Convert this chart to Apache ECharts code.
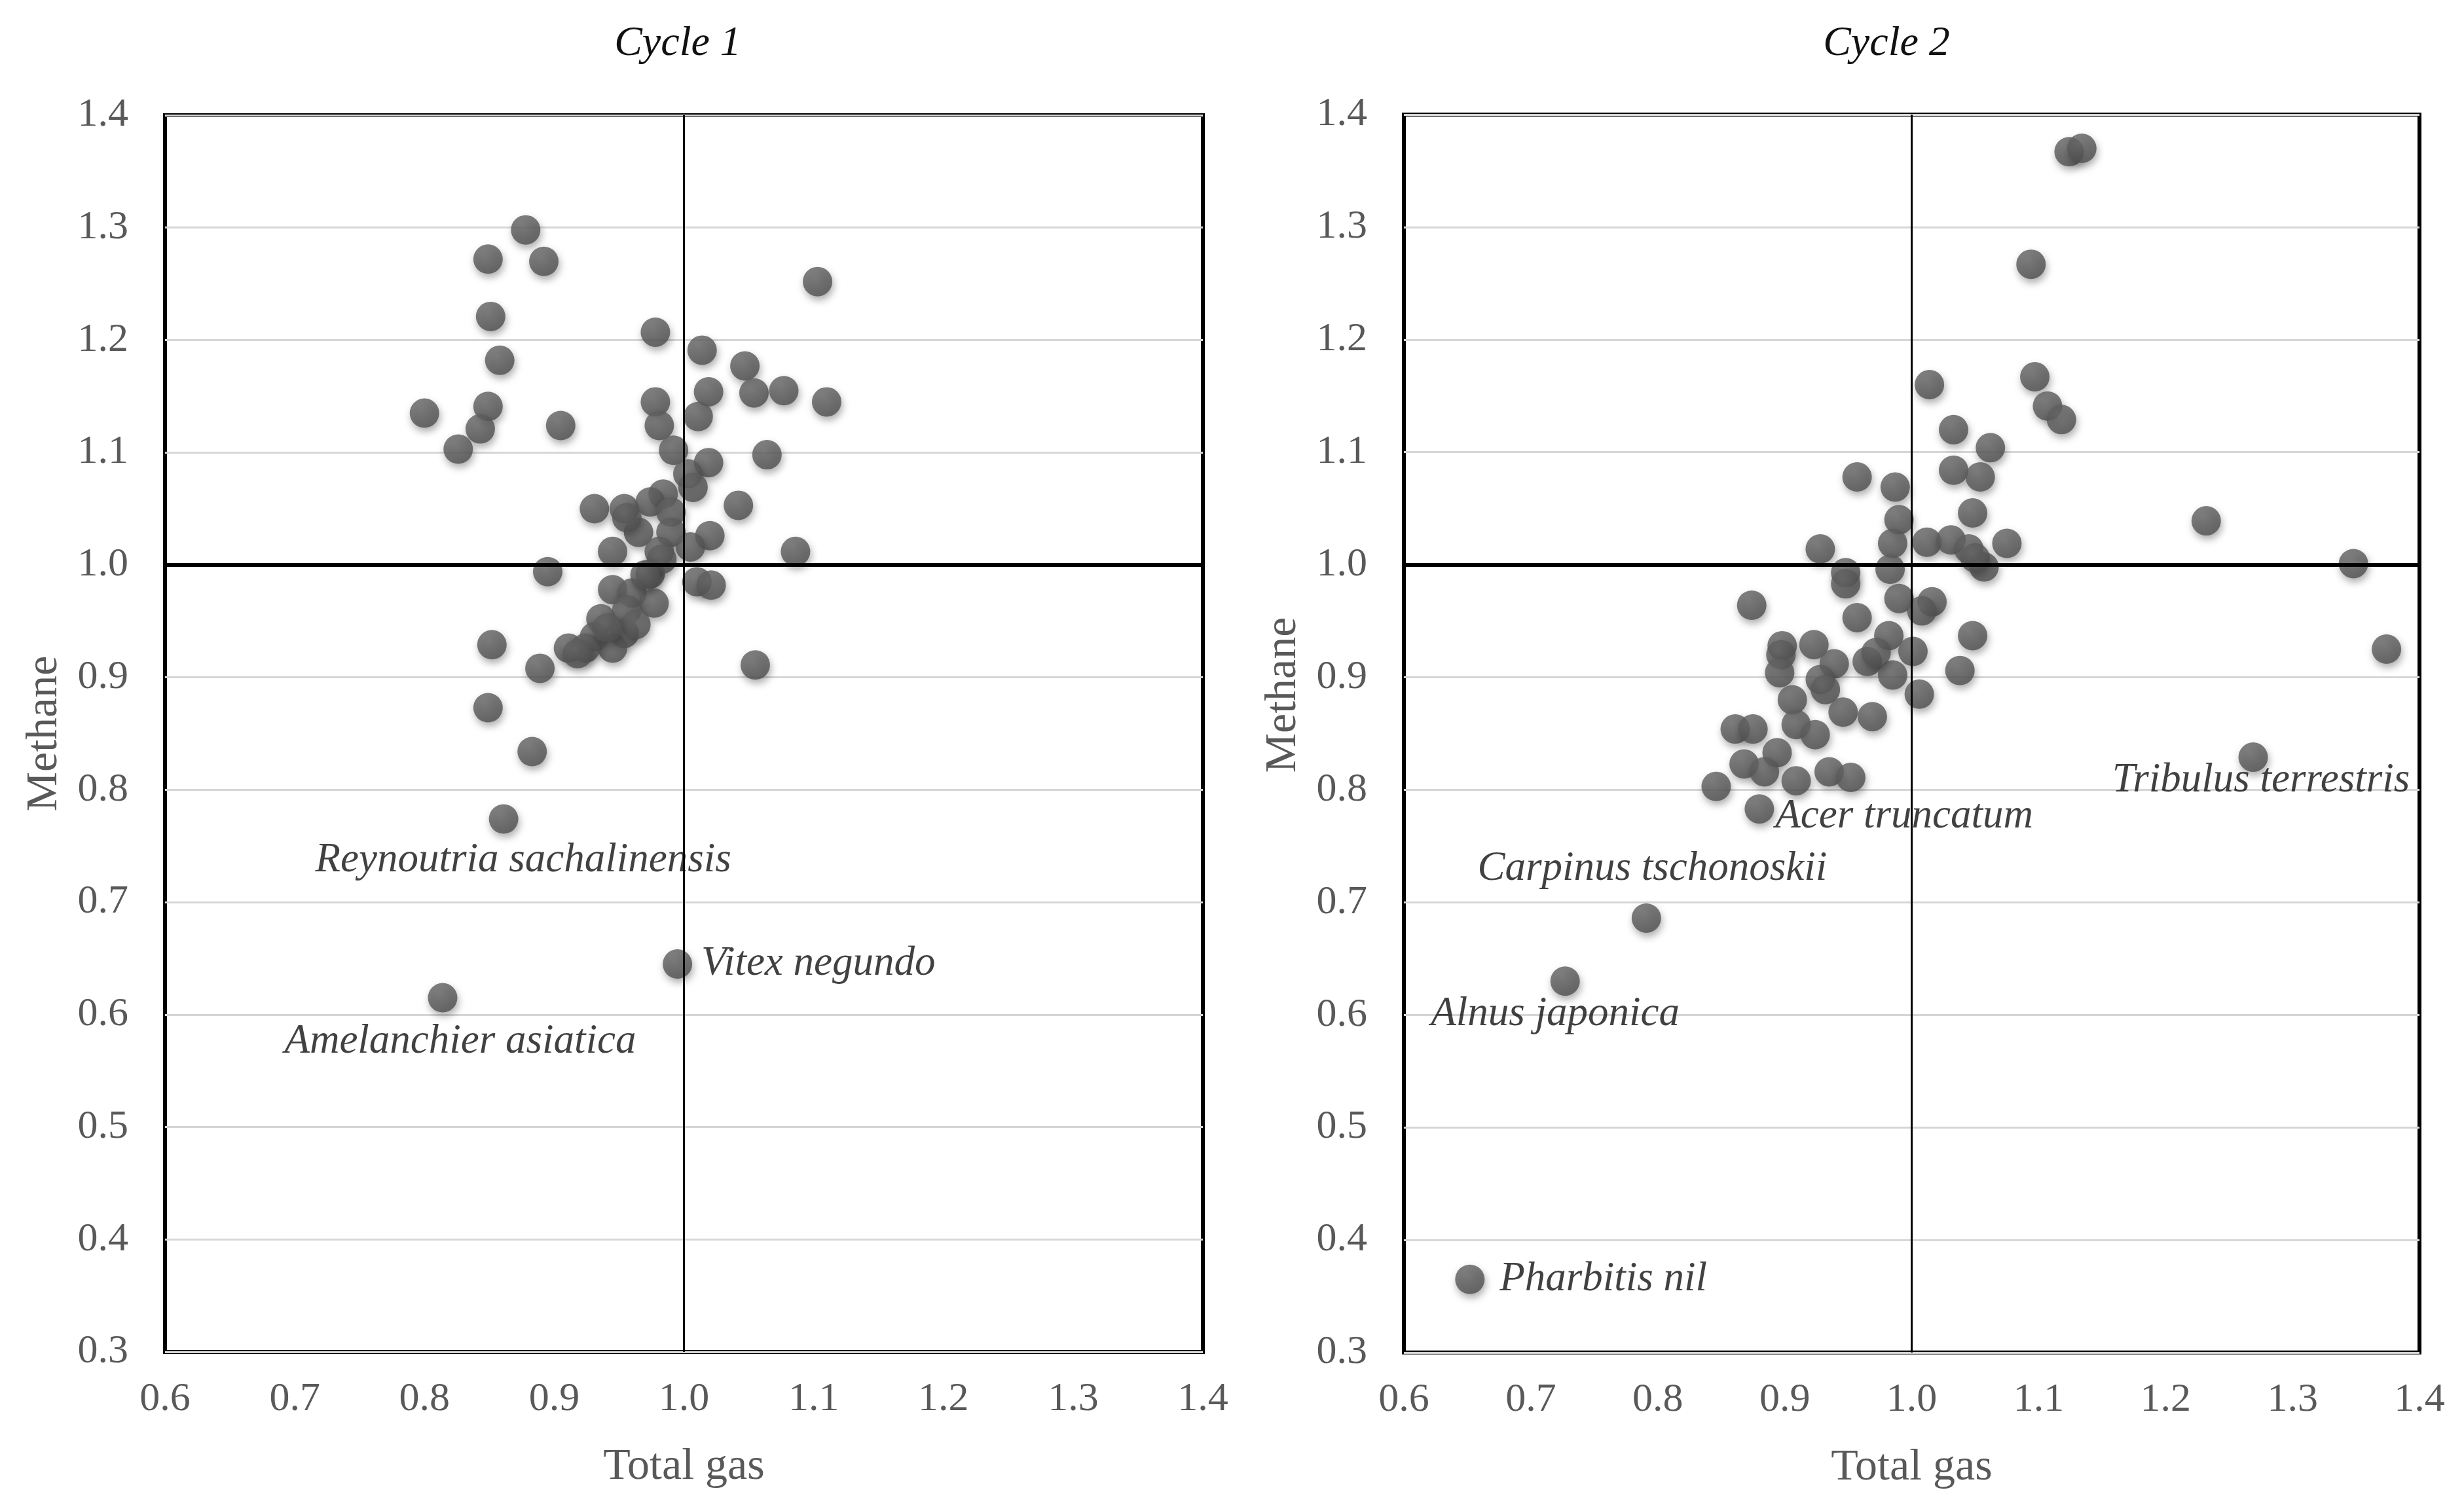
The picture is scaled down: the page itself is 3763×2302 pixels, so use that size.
<!DOCTYPE html>
<html>
<head>
<meta charset="utf-8">
<script src="https://cdn.jsdelivr.net/npm/echarts@6/dist/echarts.min.js"></script>
<style>
  html, body { margin: 0; padding: 0; background: #fff; }
  #main { width: 3763px; height: 2302px; }
</style>
</head>
<body>
<div id="main"></div>
<script>
// Cycle 1 - unlabeled points
var c1Total = [0.878, 0.849, 0.892, 1.103, 0.851, 0.978, 1.014, 0.858, 1.047, 1.019, 1.054, 1.077, 1.110,
  0.800, 0.849, 0.978, 0.905, 0.843, 0.981, 1.011, 0.826, 0.992, 1.064, 1.019, 1.003, 1.007, 0.984,
  1.042, 0.931, 0.954, 0.974, 0.990, 0.965, 0.956, 0.990, 1.020, 1.005, 0.945, 0.981, 1.086, 0.895,
  1.010, 1.021, 0.974, 0.983, 0.945, 0.960, 0.977, 0.970, 0.936, 0.956, 0.954, 0.931, 0.945, 0.911,
  0.924, 0.889, 0.852, 1.055, 0.849, 0.883, 0.918, 0.963, 0.941]
var c1Methane = [1.298, 1.272, 1.270, 1.252, 1.221, 1.207, 1.191, 1.182, 1.177, 1.154, 1.153, 1.155, 1.145,
  1.135, 1.141, 1.145, 1.124, 1.121, 1.124, 1.132, 1.103, 1.102, 1.098, 1.091, 1.081, 1.069, 1.063,
  1.053, 1.050, 1.050, 1.056, 1.047, 1.029, 1.042, 1.029, 1.026, 1.016, 1.012, 1.012, 1.012, 0.994,
  0.985, 0.982, 0.992, 1.005, 0.978, 0.975, 0.966, 0.991, 0.952, 0.960, 0.939, 0.936, 0.926, 0.926,
  0.926, 0.908, 0.929, 0.911, 0.873, 0.834, 0.921, 0.947, 0.944]
// Cycle 1 - named points
var c1Names = ['Reynoutria sachalinensis', 'Vitex negundo', 'Amelanchier asiatica']
var c1NamedTotal = [0.861, 0.995, 0.814]
var c1NamedMethane = [0.774, 0.645, 0.615]

// Cycle 2 - unlabeled points
var c2Total = [1.124, 1.134, 1.094, 1.014, 1.097, 1.107, 1.118, 1.033, 1.062, 1.033, 1.054, 0.957, 0.987,
  1.048, 0.990, 1.232, 0.928, 0.985, 1.012, 1.031, 1.045, 1.075, 1.057, 1.050, 1.348, 0.983, 0.948,
  0.948, 0.874, 0.990, 1.016, 1.008, 0.957, 0.982, 1.048, 0.898, 0.923, 0.897, 0.939, 0.965, 1.001,
  1.038, 0.896, 0.928, 0.985, 0.932, 1.006, 0.906, 0.946, 0.969, 0.861, 0.875, 0.909, 0.924, 0.894,
  0.868, 0.884, 0.909, 0.935, 0.952, 0.846, 1.374, 0.972]
var c2Methane = [1.367, 1.370, 1.267, 1.160, 1.167, 1.141, 1.129, 1.120, 1.104, 1.084, 1.078, 1.078, 1.069,
  1.046, 1.040, 1.039, 1.014, 1.019, 1.020, 1.022, 1.014, 1.019, 0.998, 1.006, 1.001, 0.996, 0.993,
  0.983, 0.964, 0.970, 0.967, 0.959, 0.953, 0.937, 0.937, 0.928, 0.929, 0.920, 0.912, 0.914, 0.923,
  0.906, 0.904, 0.898, 0.902, 0.889, 0.885, 0.880, 0.869, 0.865, 0.854, 0.854, 0.858, 0.849, 0.833,
  0.823, 0.816, 0.808, 0.816, 0.811, 0.803, 0.925, 0.922]
// Cycle 2 - named points
var c2Names = ['Acer truncatum', 'Tribulus terrestris', 'Carpinus tschonoskii', 'Alnus japonica', 'Pharbitis nil']
var c2NamedTotal = [0.880, 1.269, 0.791, 0.727, 0.652]
var c2NamedMethane = [0.783, 0.829, 0.686, 0.630, 0.365]

var axisTicks = [0.3, 0.4, 0.5, 0.6, 0.7, 0.8, 0.9, 1.0, 1.1, 1.2, 1.3, 1.4]

// where each name sits relative to its point
var labelPlace = {
  'Reynoutria sachalinensis': { position: 'inside', offset: [30, 63] },
  'Vitex negundo': { position: 'right', distance: 14 },
  'Amelanchier asiatica': { position: 'inside', offset: [27, 67] },
  'Acer truncatum': { position: 'right', distance: 2, offset: [0, 12] },
  'Tribulus terrestris': { position: 'inside', offset: [12, 36] },
  'Carpinus tschonoskii': { position: 'inside', offset: [9, -75] },
  'Alnus japonica': { position: 'inside', offset: [-15, 51] },
  'Pharbitis nil': { position: 'right', distance: 23 }
}

var serif = 'Liberation Serif'
var grey = '#595959'

var dotColor = new echarts.graphic.RadialGradient(0.4, 0.35, 0.75, [
  { offset: 0, color: '#6c6c6c' },
  { offset: 1, color: '#4b4b4b' }
])

function pairs(xs, ys) {
  var out = []
  for (var i = 0; i < xs.length; i++) out.push([xs[i], ys[i]])
  return out
}

function named(names, xs, ys) {
  var out = []
  for (var i = 0; i < names.length; i++) {
    var p = labelPlace[names[i]]
    out.push({
      name: names[i],
      value: [xs[i], ys[i]],
      label: {
        show: true,
        formatter: '{b}',
        position: p.position,
        distance: p.distance || 0,
        offset: p.offset || [0, 0],
        fontFamily: serif,
        fontStyle: 'italic',
        fontSize: 63,
        color: '#111'
      }
    })
  }
  return out
}

function makeAxes(idx, yPad) {
  var x = {
    gridIndex: idx, type: 'value', min: 0.6, max: 1.4, interval: 0.1,
    name: 'Total gas', nameLocation: 'middle', nameGap: 142,
    nameTextStyle: { fontFamily: serif, fontSize: 68, color: grey },
    axisLine: { show: false }, axisTick: { show: false }, splitLine: { show: false },
    axisLabel: { margin: 42, fontFamily: serif, fontSize: 62, color: grey,
      formatter: function (v) { return v.toFixed(1) } }
  }
  var y = {
    gridIndex: idx, type: 'value', min: axisTicks[0], max: axisTicks[axisTicks.length - 1], interval: 0.1,
    name: 'Methane', nameLocation: 'middle', nameGap: 150,
    nameTextStyle: { fontFamily: serif, fontSize: 68, color: grey, padding: [0, 0, 0, yPad] },
    axisLine: { show: false }, axisTick: { show: false },
    splitLine: { show: true, lineStyle: { color: '#d6d6d6', width: 3 } },
    axisLabel: { margin: 56, fontFamily: serif, fontSize: 62, color: grey,
      formatter: function (v) { return v.toFixed(1) } }
  }
  return [x, y]
}

function crossLines() {
  return {
    silent: true, symbol: 'none', animation: false,
    label: { show: false },
    emphasis: { disabled: true },
    data: [
      { xAxis: 1.0, lineStyle: { color: '#000', width: 3, type: 'solid' } },
      { yAxis: 1.0, lineStyle: { color: '#000', width: 6, type: 'solid' } }
    ]
  }
}

function dots(idx, data, withLines) {
  var s = {
    type: 'scatter', xAxisIndex: idx, yAxisIndex: idx,
    symbol: 'circle', symbolSize: 45,
    itemStyle: {
      color: dotColor, shadowBlur: 12, shadowOffsetX: 2, shadowOffsetY: 6,
      shadowColor: 'rgba(0,0,0,0.4)'
    },
    emphasis: { disabled: true },
    data: data
  }
  if (withLines) s.markLine = crossLines()
  return s
}

var a1 = makeAxes(0, 0)
var a2 = makeAxes(1, 118)

var chart = echarts.init(document.getElementById('main'))
chart.setOption({
  animation: false,
  backgroundColor: '#fff',
  graphic: [
    { type: 'text', x: 1035, y: 67, style: { text: 'Cycle 1', align: 'center', verticalAlign: 'middle',
      fontFamily: serif, fontStyle: 'italic', fontSize: 64, fill: '#111' } },
    { type: 'text', x: 2881, y: 67, style: { text: 'Cycle 2', align: 'center', verticalAlign: 'middle',
      fontFamily: serif, fontStyle: 'italic', fontSize: 64, fill: '#111' } }
  ],
  grid: [
    { left: 252, right: 1926, top: 176, bottom: 237, show: true, borderColor: '#000', borderWidth: 6 },
    { left: 2144, right: 68, top: 175, bottom: 236, show: true, borderColor: '#000', borderWidth: 6 }
  ],
  xAxis: [a1[0], a2[0]],
  yAxis: [a1[1], a2[1]],
  series: [
    dots(0, pairs(c1Total, c1Methane), true),
    dots(0, named(c1Names, c1NamedTotal, c1NamedMethane), false),
    dots(1, pairs(c2Total, c2Methane), true),
    dots(1, named(c2Names, c2NamedTotal, c2NamedMethane), false)
  ]
})
</script>
</body>
</html>
